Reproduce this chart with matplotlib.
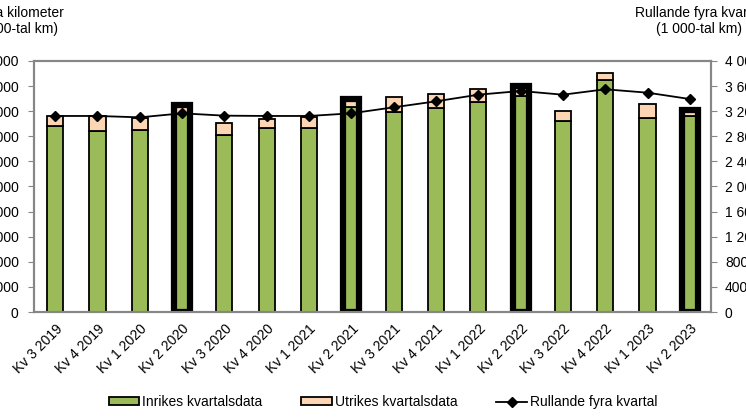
import matplotlib.pyplot as plt
from matplotlib.patches import Patch
from matplotlib.lines import Line2D
import numpy as np

plt.rcParams['font.family'] = ['Liberation Sans', 'DejaVu Sans']

# Data (1 000-tal km)
kvartal = ["Kv 3 2019", "Kv 4 2019", "Kv 1 2020", "Kv 2 2020", "Kv 3 2020", "Kv 4 2020",
           "Kv 1 2021", "Kv 2 2021", "Kv 3 2021", "Kv 4 2021", "Kv 1 2022", "Kv 2 2022",
           "Kv 3 2022", "Kv 4 2022", "Kv 1 2023", "Kv 2 2023"]
inrikes = [7410, 7210, 7240, 7900, 7050, 7340, 7330, 8150, 7980, 8140, 8350, 8600, 7610, 9240, 7710, 7820]
totalt = [7790, 7810, 7715, 8250, 7540, 7700, 7780, 8500, 8550, 8670, 8870, 9000, 8020, 9530, 8270, 8050]
utrikes = [t - i for t, i in zip(totalt, inrikes)]
rullande = [3124, 3124, 3102, 3166, 3129, 3124, 3124, 3166, 3262, 3357, 3463, 3522, 3463, 3549, 3495, 3394]
markerade = ["Kv 2 2020", "Kv 2 2021", "Kv 2 2022", "Kv 2 2023"]

GREEN = "#9bbb59"
PEACH = "#fcd5b5"
GRAY = "#868686"
FS = 10

fig = plt.figure(figsize=(7.46, 4.19), dpi=100)
ax = fig.add_axes([34 / 746, 1 - 312 / 419, (711 - 34) / 746, (312 - 61) / 419])
ax2 = ax.twinx()

x = np.arange(len(kvartal))
w = 0.38
ax.bar(x, inrikes, w, color=GREEN, edgecolor="black", linewidth=1.3, zorder=2)
ax.bar(x, utrikes, w, bottom=inrikes, color=PEACH, edgecolor="black", linewidth=1.3, zorder=2)
for i, k in enumerate(kvartal):
    if k in markerade:
        ax.bar(x[i], totalt[i], w, color="none", edgecolor="black", linewidth=4.5, zorder=3)

ax.set_xlim(-0.5, len(kvartal) - 0.5)
ax.set_ylim(0, 10000)
ax.set_yticks(np.arange(0, 10001, 1000))
ax.set_yticklabels(["0"] + [f"{v // 1000} 000" for v in range(1000, 10001, 1000)])
ax.set_xticks(x)
ax.set_xticklabels(kvartal, rotation=45, ha="right", rotation_mode="anchor")
ax.tick_params(axis="x", length=0, labelsize=FS, pad=7)
ax.tick_params(axis="y", length=4, color=GRAY, labelsize=FS, pad=7)

ax2.plot(x, rullande, color="black", marker="D", markersize=5.5, linewidth=1.3, zorder=4)
ax2.set_ylim(0, 4000)
ax2.set_yticks(np.arange(0, 4001, 400))
ax2.set_yticklabels([f"{v:,}".replace(",", " ") for v in range(0, 4001, 400)])
ax2.tick_params(axis="y", length=4, color=GRAY, labelsize=FS, pad=6)
ax.set_zorder(1)
ax2.set_zorder(2)
ax2.patch.set_visible(False)

for a in (ax, ax2):
    for s in a.spines.values():
        s.set_color(GRAY)
        s.set_linewidth(1.5)

fig.text(15 / 746, 1 - 21 / 419, "Körda kilometer\n(1 000-tal km)", ha="center", va="center",
         fontsize=FS, multialignment="center")
fig.text(699 / 746, 1 - 21 / 419, "Rullande fyra kvartal\n(1 000-tal km)", ha="center", va="center",
         fontsize=FS, multialignment="center")

handles = [Patch(facecolor=GREEN, edgecolor="black", linewidth=1.3),
           Patch(facecolor=PEACH, edgecolor="black", linewidth=1.3),
           Line2D([], [], color="black", marker="D", markersize=5.5, linewidth=1.3)]
fig.legend(handles, ["Inrikes kvartalsdata", "Utrikes kvartalsdata", "Rullande fyra kvartal"],
           loc="center", bbox_to_anchor=(383 / 746, 1 - 402 / 419), ncol=3, frameon=False,
           fontsize=FS, handlelength=2.2, handleheight=0.5, handletextpad=0.2, columnspacing=2.8)

fig.savefig("out.png", dpi=100)
